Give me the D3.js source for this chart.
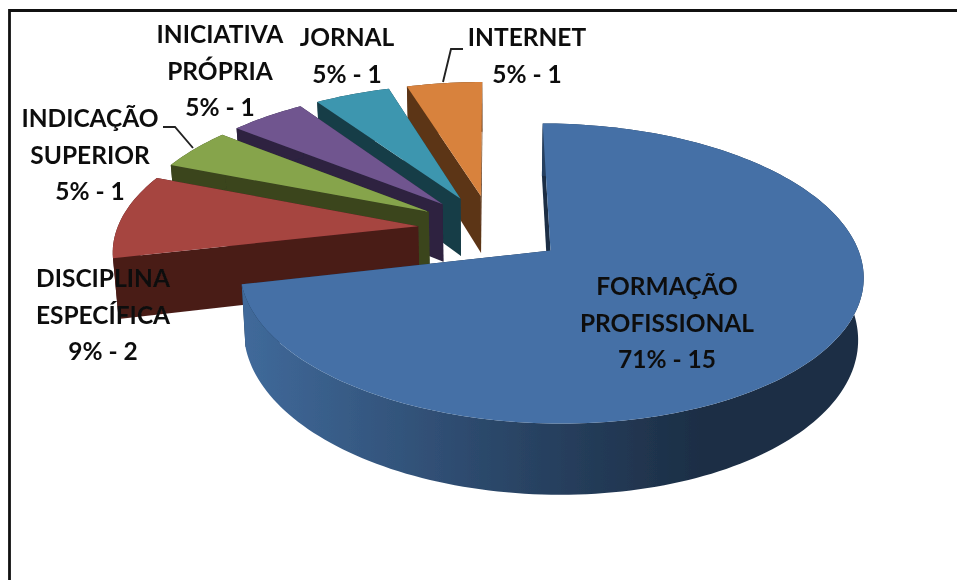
<!DOCTYPE html>
<html>
<head>
<meta charset="utf-8">
<script src="https://cdn.jsdelivr.net/npm/d3@7"></script>
<style>
  html, body { margin: 0; padding: 0; background: #fff; }
  text { font-family: Lato, "Open Sans", sans-serif; font-weight: 700; fill: #111; }
</style>
</head>
<body>
<div id="chart"></div>
<script>
var width = 957,
    height = 580;

// valores
var categorias = ["FORMAÇÃO PROFISSIONAL", "DISCIPLINA ESPECÍFICA", "INDICAÇÃO SUPERIOR",
                  "INICIATIVA PRÓPRIA", "JORNAL", "INTERNET"];
var valores = [15, 2, 1, 1, 1, 1];
var percentuais = [71, 9, 5, 5, 5, 5];

var linhasRotulo = [
    ["FORMAÇÃO", "PROFISSIONAL"],
    ["DISCIPLINA", "ESPECÍFICA"],
    ["INDICAÇÃO", "SUPERIOR"],
    ["INICIATIVA", "PRÓPRIA"],
    ["JORNAL"],
    ["INTERNET"]
];

var coresTopo = ["#4470a6", "#a64441", "#86a44b", "#6f558f", "#3e96af", "#d8823c"];
var coresLado = ["#1c2e45", "#4a1c19", "#3a441f", "#2d2340", "#193d47", "#5c3517"];

// "camera" da pizza 3D
var cx = 491.5,
    cy = 228.7,
    raio = 301,
    achatar = 139.9,
    dist = 6.7,
    explosao = 0.245,
    altura = 59,
    encolheBase = 0.985;

var projetar = function (a, r, e, bis, base) {
    var X = r * Math.sin(a) + e * Math.sin(bis),
        Y = r * Math.cos(a) + e * Math.cos(bis),
        s = dist / (dist + Y),
        x = raio * X * s * (base ? encolheBase : 1),
        y = -achatar * Y * s + (base ? altura * s : 0);
    return [cx + x, cy + y];
};

var arco = function (d, base) {
    var n = Math.max(4, Math.round((d.endAngle - d.startAngle) * 40));
    return d3.range(n + 1).map(function (i) {
        var a = d.startAngle + (d.endAngle - d.startAngle) * i / n;
        return projetar(a, 1, explosao, d.bis, base);
    });
};

var linha = d3.line();

var fatias = d3.pie().sort(null).startAngle(0).endAngle(2 * Math.PI)(valores);
fatias.forEach(function (d, i) {
    d.i = i;
    d.bis = (d.startAngle + d.endAngle) / 2;
});

var svg = d3.select("#chart").append("svg")
    .attr("width", width)
    .attr("height", height)
    .style("display", "block");

var defs = svg.append("defs");
defs.append("filter").attr("id", "suave")
    .attr("x", "-5%").attr("y", "-5%").attr("width", "110%").attr("height", "110%")
    .append("feGaussianBlur").attr("stdDeviation", 0.45);

var grad = defs.append("linearGradient").attr("id", "ladoAzul")
    .attr("gradientUnits", "userSpaceOnUse")
    .attr("x1", 240).attr("x2", 700).attr("y1", 0).attr("y2", 0);
grad.append("stop").attr("offset", "0%").attr("stop-color", "#406a9b");
grad.append("stop").attr("offset", "55%").attr("stop-color", "#2b4769");
grad.append("stop").attr("offset", "100%").attr("stop-color", "#1c2e45");

// moldura: so em cima e na esquerda
svg.append("path")
    .attr("d", "M9.5,580V10.5H957")
    .attr("fill", "none")
    .attr("stroke", "#111")
    .attr("stroke-width", 2.8);

var pizza = svg.append("g").attr("filter", "url(#suave)");

// de tras para a frente
var ordem = fatias.slice().reverse();

var g = pizza.selectAll("g.fatia")
    .data(ordem)
    .enter()
    .append("g")
    .attr("class", "fatia");

var corLado = function (d) {
    return d.i == 0 ? "url(#ladoAzul)" : coresLado[d.i];
};

// faces do corte
g.append("path")
    .attr("fill", function (d) { return coresLado[d.i]; })
    .attr("d", function (d) {
        var e = d.endAngle;
        return linha([projetar(0, 0, explosao, d.bis), projetar(e, 1, explosao, d.bis),
                      projetar(e, 1, explosao, d.bis, true), projetar(0, 0, explosao, d.bis, true)]) + "Z";
    });

g.append("path")
    .attr("fill", function (d) { return coresLado[d.i]; })
    .attr("d", function (d) {
        var s = d.startAngle;
        return linha([projetar(0, 0, explosao, d.bis), projetar(s, 1, explosao, d.bis),
                      projetar(s, 1, explosao, d.bis, true), projetar(0, 0, explosao, d.bis, true)]) + "Z";
    });

// parede externa
g.append("path")
    .attr("fill", corLado)
    .attr("d", function (d) {
        return linha(arco(d, false).concat(arco(d, true).reverse())) + "Z";
    });

// topo
g.append("path")
    .attr("fill", function (d) { return coresTopo[d.i]; })
    .attr("d", function (d) {
        return linha([projetar(0, 0, explosao, d.bis)].concat(arco(d, false))) + "Z";
    });

// linhas de chamada
var chamadas = [
    [[163, 127], [175, 127], [193, 148]],
    [[463, 49], [451, 49], [443, 82]]
];
svg.selectAll("path.chamada")
    .data(chamadas)
    .enter()
    .append("path")
    .attr("class", "chamada")
    .attr("d", linha)
    .attr("fill", "none")
    .attr("stroke", "#222")
    .attr("stroke-width", 1.9);

// posicao de cada rotulo: centro x, base y da primeira linha
var posRotulo = [[667, 295], [103, 287], [90, 127], [220, 43], [347, 46], [527, 46]];
var passoLinha = 36.5;

var rotulos = svg.append("g").attr("filter", "url(#suave)")
    .selectAll("text")
    .data(fatias)
    .enter()
    .append("text")
    .attr("text-anchor", "middle")
    .attr("font-size", 24.5);

rotulos.each(function (d) {
    var linhas = linhasRotulo[d.i].concat([percentuais[d.i] + "% - " + valores[d.i]]);
    d3.select(this).selectAll("tspan")
        .data(linhas)
        .enter()
        .append("tspan")
        .attr("x", posRotulo[d.i][0])
        .attr("y", function (t, j) { return posRotulo[d.i][1] + j * passoLinha; })
        .text(function (t) { return t; });
});
</script>
</body>
</html>
